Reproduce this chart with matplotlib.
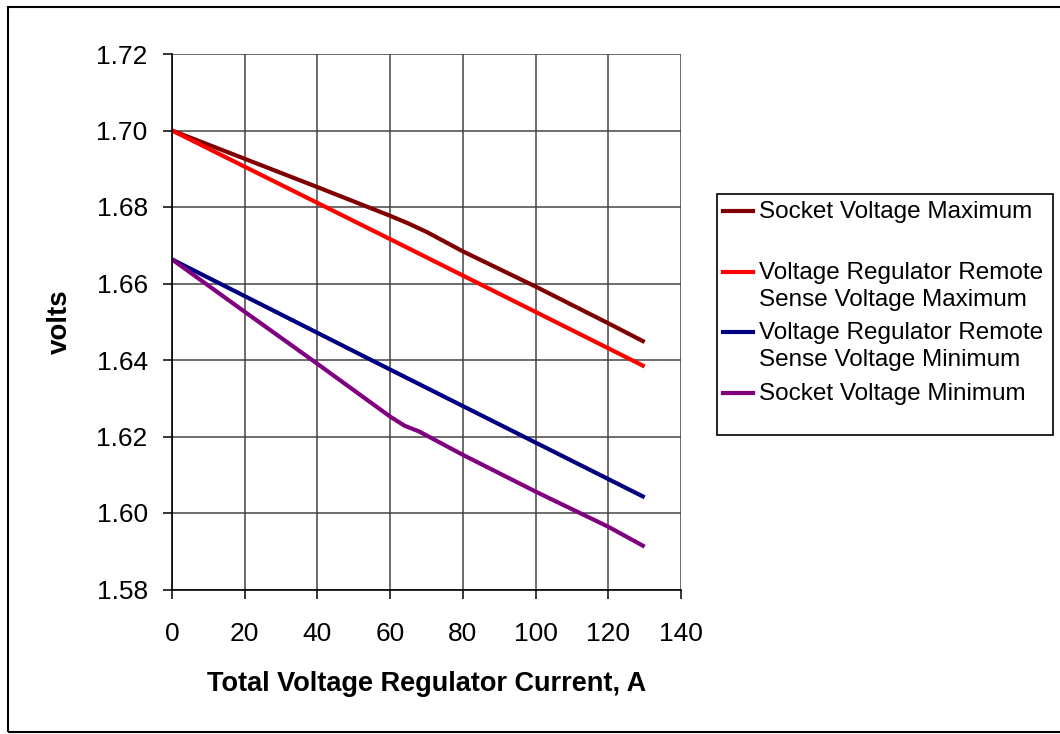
import matplotlib
matplotlib.use('Agg')
import matplotlib.pyplot as plt
from matplotlib.patches import Rectangle
from matplotlib.lines import Line2D

plt.rcParams['font.family'] = ['Liberation Sans', 'DejaVu Sans']

# values
x_sock_max = [0, 20, 40, 60, 65, 70, 80, 100, 120, 130]
v_sock_max = [1.700, 1.6926, 1.6852, 1.6777, 1.6757, 1.6735, 1.6684, 1.6592, 1.6496, 1.6447]
x_vr_max = [0, 60, 130]
v_vr_max = [1.700, 1.6716, 1.6383]
x_vr_min = [0, 60, 130]
v_vr_min = [1.6663, 1.6375, 1.6041]
x_sock_min = [0, 20, 40, 60, 64, 68, 80, 100, 120, 130]
v_sock_min = [1.6663, 1.6526, 1.6390, 1.6252, 1.6228, 1.6213, 1.6152, 1.6056, 1.5964, 1.5912]

labels = ['Socket Voltage Maximum',
          'Voltage Regulator Remote\nSense Voltage Maximum',
          'Voltage Regulator Remote\nSense Voltage Minimum',
          'Socket Voltage Minimum']
colors = ['#800000', '#FF0000', '#000080', '#800080']
xs = [x_sock_max, x_vr_max, x_vr_min, x_sock_min]
ys = [v_sock_max, v_vr_max, v_vr_min, v_sock_min]

W, H = 1060, 734
fig = plt.figure(figsize=(W / 100, H / 100), dpi=100)
ax = fig.add_axes([172 / W, 1 - 589.5 / H, (681 - 172) / W, (589.5 - 54) / H])

for x, y, c in zip(xs, ys, colors):
    ax.plot(x, y, color=c, lw=3, solid_capstyle='butt', solid_joinstyle='round', zorder=3)

ax.set_xlim(0, 140)
ax.set_ylim(1.58, 1.72)
ax.set_xticks(range(0, 141, 20))
ax.set_yticks([1.58, 1.60, 1.62, 1.64, 1.66, 1.68, 1.70, 1.72])
ax.set_yticklabels(['%.2f' % v for v in ax.get_yticks()])
ax.grid(True, color='#444444', lw=1.1)
ax.set_axisbelow(True)
for s in ['top', 'right']:
    ax.spines[s].set_visible(False)
for s in ['left', 'bottom']:
    ax.spines[s].set_linewidth(1.2)
    ax.spines[s].set_zorder(4)
ax.tick_params(direction='out', length=6.5, width=1.1, labelsize=19)
ax.tick_params(axis='y', pad=11)
ax.tick_params(axis='x', pad=17)

ax.set_xlabel('Total Voltage Regulator Current, A', fontsize=19.5, fontweight='bold', va='center')
ax.xaxis.set_label_coords(0.5, -(684 - 589.5) / 535.5)
ax.set_ylabel('volts', fontsize=20, fontweight='bold', va='center')
ax.yaxis.set_label_coords(-(172 - 60) / 509, 0.5)

def fx(px):
    return px / W

def fy(py):
    return 1 - py / H

# legend box, drawn like the Excel one
fig.add_artist(Rectangle((fx(717), fy(435)), fx(1053) - fx(717), fy(194) - fy(435),
                         transform=fig.transFigure, fill=False, ec='black', lw=1.2))
handle_y = [211, 272, 332, 393]
for lab, c, hy in zip(labels, colors, handle_y):
    fig.add_artist(Line2D([fx(723), fx(753)], [fy(hy), fy(hy)], color=c, lw=3,
                          transform=fig.transFigure))
    for k, line in enumerate(lab.split('\n')):
        fig.text(fx(759), fy(hy + 1 + 27 * k), line, fontsize=17.5, va='center', ha='left')

# outer chart border
fig.add_artist(Rectangle((fx(8), fy(732)), fx(1070) - fx(8), fy(7) - fy(732),
                         transform=fig.transFigure, fill=False, ec='black', lw=1.5))

fig.savefig('out.png', dpi=100)
